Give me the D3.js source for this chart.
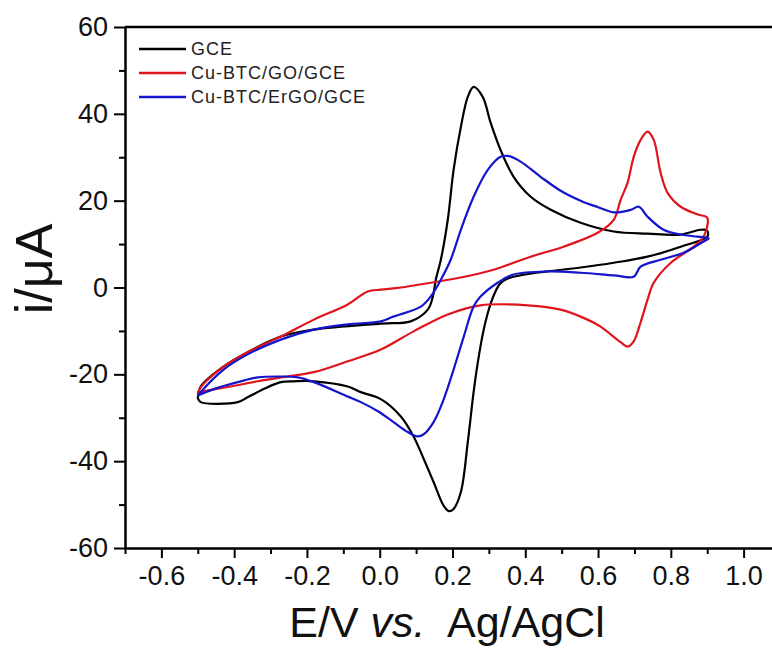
<!DOCTYPE html>
<html>
<head>
<meta charset="utf-8">
<script src="https://cdn.jsdelivr.net/npm/d3@7"></script>
<style>
  html, body { margin: 0; padding: 0; background: #fff; }
  svg { display: block; }
  text { font-family: "Liberation Sans", Arial, sans-serif; }
</style>
</head>
<body>
<svg id="chart" width="772" height="648"></svg>
<script>
// ---- Data (E in V, i in µA) ----
const seriesNames = ["GCE", "Cu-BTC/GO/GCE", "Cu-BTC/ErGO/GCE"];
const seriesColors = ["#000000", "#e0141c", "#1414cc"];

const gceE = [-0.5,-0.492,-0.429,-0.363,-0.272,-0.181,0.003,0.085,0.132,0.146,0.154,0.168,0.187,0.203,0.223,0.242,0.258,0.283,0.305,0.332,0.368,0.415,0.47,0.552,0.643,0.736,0.827,0.882,0.9,
  0.9,0.827,0.736,0.643,0.552,0.462,0.4,0.35,0.33,0.315,0.3,0.285,0.27,0.258,0.242,0.223,0.203,0.19,0.176,0.148,0.121,0.093,0.058,0.003,-0.052,-0.088,-0.181,-0.236,-0.272,-0.319,-0.363,-0.39,-0.492,-0.5];
const gceI = [-25.5,-22.8,-18.2,-14.9,-11.3,-9.7,-8.3,-7.8,-5.1,-2.1,1.8,6.4,15.6,27.1,37.0,43.9,46.2,43.9,37.9,31.7,25.5,20.9,17.9,14.9,12.9,12.4,12.2,13.3,13.1,
  11.7,9.4,7.1,5.7,4.6,3.7,3.0,2.0,0.8,-1.5,-5.0,-10.0,-17.0,-24.1,-35.6,-47.1,-51.0,-51.5,-50.3,-44.8,-39.5,-34.3,-29.7,-25.7,-24.1,-22.8,-21.6,-21.6,-21.8,-23.4,-25.3,-26.4,-26.4,-25.5];

const goE = [-0.5,-0.492,-0.429,-0.363,-0.272,-0.181,-0.088,-0.033,0.003,0.058,0.14,0.223,0.313,0.415,0.505,0.599,0.643,0.662,0.681,0.698,0.717,0.736,0.753,0.772,0.791,0.827,0.874,0.9,
  0.89,0.863,0.8,0.753,0.736,0.717,0.698,0.681,0.662,0.607,0.571,0.497,0.407,0.277,0.187,0.093,0.003,-0.088,-0.181,-0.272,-0.335,-0.409,-0.492,-0.5];
const goI = [-24.5,-23.0,-18.2,-14.9,-11.3,-7.4,-3.9,-0.9,-0.5,0.0,1.1,2.3,4.1,7.1,9.4,12.6,15.6,20.2,24.1,30.1,34.0,35.9,34.0,26.4,21.8,18.6,16.8,16.1,
  11.7,9.4,5.7,1.1,-2.8,-8.0,-12.4,-13.6,-12.6,-9.0,-7.4,-5.1,-4.1,-4.1,-6.2,-10.1,-14.3,-17.0,-19.5,-20.7,-21.6,-22.8,-24.1,-24.5];

const ergoE = [-0.5,-0.492,-0.429,-0.363,-0.272,-0.181,-0.088,0.003,0.038,0.113,0.14,0.168,0.195,0.223,0.258,0.297,0.332,0.352,0.387,0.442,0.497,0.552,0.6,0.643,0.69,0.712,0.736,0.78,0.827,0.874,0.904,
  0.89,0.835,0.772,0.717,0.698,0.643,0.552,0.462,0.368,0.324,0.277,0.258,0.231,0.203,0.176,0.148,0.121,0.104,0.077,0.038,-0.005,-0.052,-0.088,-0.181,-0.225,-0.272,-0.335,-0.39,-0.456,-0.492,-0.5];
const ergoI = [-25.0,-24.1,-18.9,-15.4,-12.0,-9.7,-8.5,-7.8,-6.7,-4.4,-2.1,1.8,6.4,13.3,20.9,27.1,30.1,30.3,29.0,25.5,22.3,20.0,18.5,17.3,17.9,18.6,16.3,13.3,12.2,11.7,11.3,
  10.6,8.0,6.4,4.8,2.5,2.8,3.4,3.7,3.0,1.1,-2.1,-4.4,-11.3,-18.9,-25.7,-31.0,-33.8,-34.3,-33.3,-31.0,-28.5,-26.4,-25.1,-21.8,-20.7,-20.5,-20.7,-21.8,-23.4,-24.6,-25.0];

const xMajorTicks = [-0.6,-0.4,-0.2,0.0,0.2,0.4,0.6,0.8,1.0];
const xMinorTicks = [-0.7,-0.5,-0.3,-0.1,0.1,0.3,0.5,0.7,0.9];
const yMajorTicks = [-60,-40,-20,0,20,40,60];
const yMinorTicks = [-50,-30,-10,10,30,50];

const series = [
  { name: seriesNames[0], color: seriesColors[0], E: gceE, I: gceI },
  { name: seriesNames[1], color: seriesColors[1], E: goE, I: goI },
  { name: seriesNames[2], color: seriesColors[2], E: ergoE, I: ergoI }
];

// ---- Layout ----
const svg = d3.select("#chart");
const x = d3.scaleLinear().domain([-0.7, 1.1]).range([125, 780]);
const y = d3.scaleLinear().domain([-60, 60]).range([548, 27]);

const line = d3.line()
  .x(d => x(d[0])).y(d => y(d[1]))
  .curve(d3.curveCatmullRom.alpha(0.5));

series.forEach(s => {
  const pts = s.E.map((e, i) => [e, s.I[i]]);
  svg.append("path")
    .datum(pts)
    .attr("d", line)
    .attr("fill", "none")
    .attr("stroke", s.color)
    .attr("stroke-width", 2.2)
    .attr("stroke-linejoin", "round");
});

// Axes
const axisFont = 27;
const hyph = f => d => f(d).replace("\u2212", "-");
const gx = svg.append("g").attr("transform", `translate(0,${y(-60)})`)
  .call(d3.axisBottom(x).tickValues(xMajorTicks).tickSize(10).tickSizeOuter(0)
    .tickFormat(hyph(d3.format(".1f"))).tickPadding(8));
gx.select(".domain").attr("stroke-width", 2.5);
gx.selectAll(".tick line").attr("stroke-width", 2);
gx.selectAll(".tick text").attr("font-size", axisFont).attr("fill", "#111")
  .attr("font-family", "'Liberation Sans', Arial, sans-serif");

const gxm = svg.append("g").attr("transform", `translate(0,${y(-60)})`)
  .call(d3.axisBottom(x).tickValues(xMinorTicks).tickSize(6).tickSizeOuter(0).tickFormat(""));
gxm.select(".domain").remove();
gxm.selectAll(".tick line").attr("stroke-width", 2);

const gy = svg.append("g").attr("transform", `translate(${x(-0.7)},0)`)
  .call(d3.axisLeft(y).tickValues(yMajorTicks).tickSize(11).tickSizeOuter(0)
    .tickFormat(hyph(d3.format("d"))).tickPadding(6));
gy.select(".domain").attr("stroke-width", 2.5);
gy.selectAll(".tick line").attr("stroke-width", 2);
gy.selectAll(".tick text").attr("font-size", axisFont).attr("fill", "#111")
  .attr("font-family", "'Liberation Sans', Arial, sans-serif");

const gym = svg.append("g").attr("transform", `translate(${x(-0.7)},0)`)
  .call(d3.axisLeft(y).tickValues(yMinorTicks).tickSize(6).tickSizeOuter(0).tickFormat(""));
gym.select(".domain").remove();
gym.selectAll(".tick line").attr("stroke-width", 2);

// Top spine
svg.append("line")
  .attr("x1", x(-0.7)).attr("x2", x(1.1))
  .attr("y1", y(60)).attr("y2", y(60))
  .attr("stroke", "#000").attr("stroke-width", 2.5);

// Axis titles
const xt = svg.append("text")
  .attr("x", 447).attr("y", 637)
  .attr("text-anchor", "middle")
  .attr("font-size", 43).attr("fill", "#111");
xt.append("tspan").text("E/V ");
xt.append("tspan").attr("font-style", "italic").text("vs.");
xt.append("tspan").text("\u00a0 Ag/AgCl");

svg.append("text")
  .attr("transform", "translate(52,269) rotate(-90)")
  .attr("text-anchor", "middle")
  .attr("font-size", 52).attr("fill", "#111")
  .text("i/\u03bcA");

// Legend
const legY = [49, 73, 97];
series.forEach((s, i) => {
  svg.append("line")
    .attr("x1", 139).attr("x2", 186)
    .attr("y1", legY[i]).attr("y2", legY[i])
    .attr("stroke", s.color).attr("stroke-width", 2.5);
  svg.append("text")
    .attr("x", 191).attr("y", legY[i])
    .attr("dy", "0.36em")
    .attr("font-size", 18).attr("letter-spacing", 1).attr("fill", "#222")
    .text(s.name);
});
</script>
</body>
</html>
